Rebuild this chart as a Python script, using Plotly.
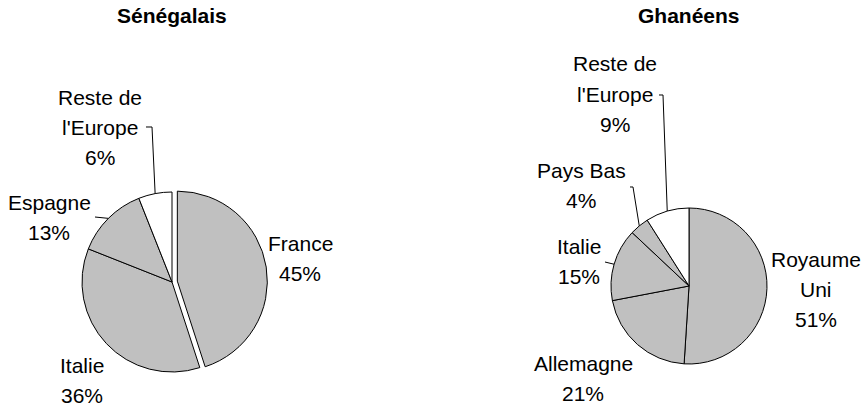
import math
import plotly.graph_objects as go

W, H = 866, 407
GRAY, WHITE = "#C0C0C0", "#FFFFFF"
FONT = "Liberation Sans, Arial, sans-serif"

# ---------------- data ----------------
sen_title = "Sénégalais"
sen_labels = ["France", "Italie", "Espagne", "Reste de l'Europe"]
sen_display = ["France", "Italie", "Espagne", "Reste de<br>l'Europe"]
sen_values = [45, 36, 13, 6]

gha_title = "Ghanéens"
gha_labels = ["Royaume Uni", "Allemagne", "Italie", "Pays Bas", "Reste de l'Europe"]
gha_display = ["Royaume<br>Uni", "Allemagne", "Italie", "Pays Bas", "Reste de<br>l'Europe"]
gha_values = [51, 21, 15, 4, 9]

# ---------------- layout / style ----------------
sen_colors = [GRAY, GRAY, GRAY, WHITE]
gha_colors = [GRAY, GRAY, GRAY, GRAY, WHITE]
sen_pull = [0.06, 0, 0, 0]
gha_pull = [0, 0, 0, 0, 0]

# pie geometry in pixels: centre x, centre y, radius
sen_geo = (172, 282, 90)
gha_geo = (689, 286, 78)

# label block centres (pixels)
sen_label_pos = [(300, 258), (82, 380), (49, 217), (100, 127)]
gha_label_pos = [(816, 289), (583, 378), (579, 261), (581, 185), (615, 94)]
# leader line starting points near labels (pixels), keyed by slice index
sen_leaders = {3: [(146, 127), (152, 127)], 2: [(95, 217)]}
gha_leaders = {4: [(659, 95), (663, 95)], 3: [(630, 187), (633, 187)], 2: [(605, 262)]}

title_y = 15
LINE_H = 30
FS = 21


def px(x):
    return x / W


def py(y):
    return 1 - y / H


def domain(geo, pull):
    cx, cy, r = geo
    half = r * (1 + max(pull))
    return dict(x=[px(cx - half), px(cx + half)], y=[py(cy + half), py(cy - half)])


fig = go.Figure()
annotations = []
shapes = []


def add_pie(title, labels, display, values, colors, pull, geo, label_pos, leaders):
    fig.add_trace(go.Pie(
        labels=labels, values=values, sort=False, direction="clockwise", rotation=0,
        marker=dict(colors=colors, line=dict(color="black", width=1)),
        pull=pull, textinfo="none", hoverinfo="label+percent",
        domain=domain(geo, pull), showlegend=False,
    ))
    cx, cy, r = geo
    annotations.append(dict(
        x=px(cx), y=py(title_y), xref="paper", yref="paper", text="<b>%s</b>" % title,
        showarrow=False, font=dict(family=FONT, size=FS, color="black"),
        xanchor="center", yanchor="middle"))
    total = sum(values)
    cum = 0
    for i, (disp, v) in enumerate(zip(display, values)):
        lines = disp.split("<br>") + ["%d%%" % round(100 * v / total)]
        lx, ly = label_pos[i]
        n = len(lines)
        for k, t in enumerate(lines):
            yy = ly + (k - (n - 1) / 2) * LINE_H
            annotations.append(dict(
                x=px(lx), y=py(yy), xref="paper", yref="paper", text=t,
                showarrow=False, font=dict(family=FONT, size=FS, color="black"),
                xanchor="center", yanchor="middle"))
        mid = (cum + v / 2) / total * 2 * math.pi
        cum += v
        if i in leaders:
            tx = cx + r * math.sin(mid)
            ty = cy - r * math.cos(mid)
            pts = leaders[i] + [(tx, ty)]
            path = "M " + " L ".join("%f,%f" % (px(a), py(b)) for a, b in pts)
            shapes.append(dict(type="path", path=path, xref="paper", yref="paper",
                               line=dict(color="black", width=1)))


add_pie(sen_title, sen_labels, sen_display, sen_values, sen_colors, sen_pull,
        sen_geo, sen_label_pos, sen_leaders)
add_pie(gha_title, gha_labels, gha_display, gha_values, gha_colors, gha_pull,
        gha_geo, gha_label_pos, gha_leaders)

fig.update_layout(
    width=W, height=H, margin=dict(l=0, r=0, t=0, b=0),
    paper_bgcolor="white", plot_bgcolor="white",
    annotations=annotations, shapes=shapes,
    font=dict(family=FONT, size=FS, color="black"),
)

fig.write_html(
    "out.html",
    config={"displayModeBar": False},
    post_script="document.body.style.margin='0';document.body.style.overflow='hidden';",
)
